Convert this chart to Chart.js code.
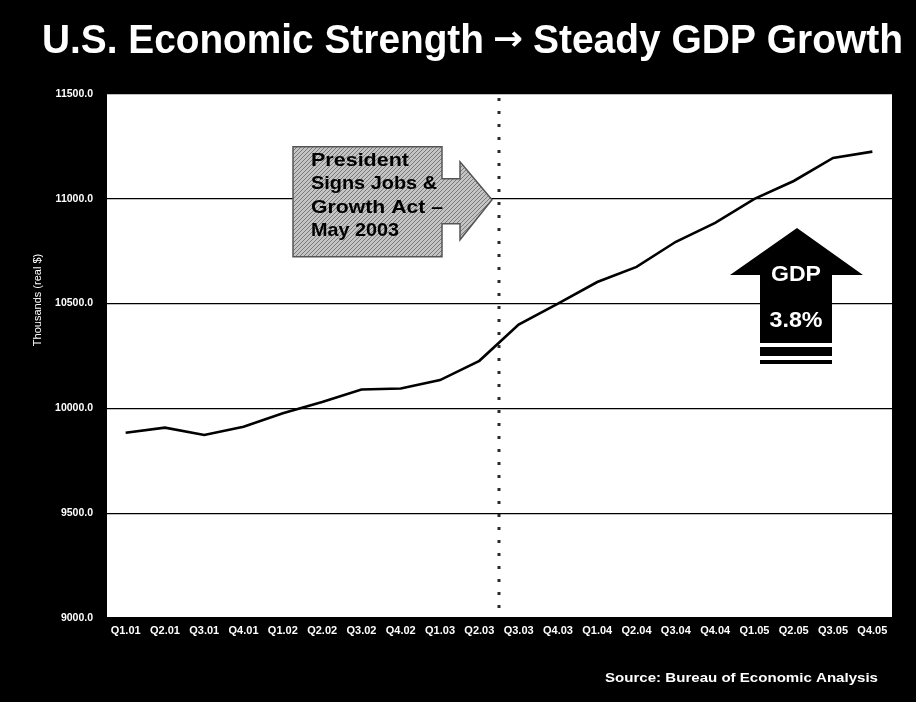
<!DOCTYPE html>
<html>
<head>
<meta charset="utf-8">
<script src="https://cdn.jsdelivr.net/npm/chart.js@4/dist/chart.umd.min.js"></script>
<style>
  html, body { margin: 0; padding: 0; background: #000; }
  canvas { display: block; }
</style>
</head>
<body>
<canvas id="gdpChart" width="916" height="702"></canvas>
<script>
// Data (real GDP, thousands of real $)
const quarters = ['Q1.01', 'Q2.01', 'Q3.01', 'Q4.01', 'Q1.02', 'Q2.02', 'Q3.02', 'Q4.02', 'Q1.03', 'Q2.03',
                  'Q3.03', 'Q4.03', 'Q1.04', 'Q2.04', 'Q3.04', 'Q4.04', 'Q1.05', 'Q2.05', 'Q3.05', 'Q4.05'];
const gdp = [9884, 9908, 9873, 9912, 9977, 10030, 10090, 10095, 10135, 10227,
             10400, 10500, 10603, 10675, 10795, 10885, 11000, 11085, 11195, 11225];
const yTicks = [9000, 9500, 10000, 10500, 11000, 11500];

// Annotation texts
const titleLeft = 'U.S. Economic Strength';
const titleArrow = '\u2192';
const titleRight = 'Steady GDP Growth';
const yTitle = 'Thousands (real $)';
const sourceText = 'Source: Bureau of Economic Analysis';
const calloutLines = ['President', 'Signs Jobs &', 'Growth Act \u2013', 'May 2003'];
const signedAfter = 'Q2.03';   // act signed May 2003 -> marker after Q2.03
const calloutValue = 11000;
const gdpLabel = 'GDP';
const gdpRate = '3.8%';

const FONT = "'Liberation Sans', Arial, sans-serif";

// draw text squeezed/stretched to a given width
function fitText(ctx, text, x, y, width, align) {
  const w = ctx.measureText(text).width;
  const sx = width / w;
  ctx.save();
  let left = x;
  if (align === 'center') left = x - width / 2;
  if (align === 'right') left = x - width;
  ctx.translate(left, y);
  ctx.scale(sx, 1);
  ctx.textAlign = 'left';
  ctx.fillText(text, 0, 0);
  ctx.restore();
}

// gray hatched fill for the callout box
function hatchPattern(ctx) {
  const pc = document.createElement('canvas');
  pc.width = 4; pc.height = 4;
  const p = pc.getContext('2d');
  p.fillStyle = '#c4c4c4';
  p.fillRect(0, 0, 4, 4);
  p.strokeStyle = '#7a7a7a';
  p.lineWidth = 1;
  p.beginPath();
  p.moveTo(0, 4); p.lineTo(4, 0);
  p.moveTo(-1, 1); p.lineTo(1, -1);
  p.moveTo(3, 5); p.lineTo(5, 3);
  p.stroke();
  return ctx.createPattern(pc, 'repeat');
}

const decor = {
  id: 'decor',
  beforeDraw(chart) {
    const ctx = chart.ctx;
    const a = chart.chartArea;
    ctx.save();
    ctx.fillStyle = '#000';
    ctx.fillRect(0, 0, chart.width, chart.height);
    ctx.fillStyle = '#fff';
    ctx.fillRect(a.left, a.top, a.right - a.left, a.bottom - a.top);
    ctx.restore();
  },
  afterDraw(chart) {
    const ctx = chart.ctx;
    const a = chart.chartArea;
    const xs = chart.scales.x;
    const ys = chart.scales.y;
    const idx = quarters.indexOf(signedAfter);
    const markX = (xs.getPixelForValue(idx) + xs.getPixelForValue(idx + 1)) / 2;

    ctx.save();
    // dotted vertical marker
    ctx.strokeStyle = '#2a2a2a';
    ctx.lineWidth = 3;
    ctx.setLineDash([3, 10]);
    ctx.beginPath();
    ctx.moveTo(markX, a.top + 4);
    ctx.lineTo(markX, a.bottom);
    ctx.stroke();
    ctx.setLineDash([]);

    // callout arrow pointing at the marker
    const tx = markX - 7;
    const ty = ys.getPixelForValue(calloutValue) + 1;
    ctx.beginPath();
    ctx.moveTo(tx - 199, ty - 53);
    ctx.lineTo(tx - 50, ty - 53);
    ctx.lineTo(tx - 50, ty - 21);
    ctx.lineTo(tx - 32, ty - 21);
    ctx.lineTo(tx - 32, ty - 38);
    ctx.lineTo(tx, ty);
    ctx.lineTo(tx - 32, ty + 40);
    ctx.lineTo(tx - 32, ty + 24);
    ctx.lineTo(tx - 50, ty + 24);
    ctx.lineTo(tx - 50, ty + 57);
    ctx.lineTo(tx - 199, ty + 57);
    ctx.closePath();
    ctx.fillStyle = hatchPattern(ctx);
    ctx.fill();
    ctx.strokeStyle = '#555';
    ctx.lineWidth = 1.5;
    ctx.stroke();

    ctx.fillStyle = '#000';
    ctx.font = 'bold 19px ' + FONT;
    ctx.textBaseline = 'alphabetic';
    const widths = [98, 126, 132, 88];
    calloutLines.forEach((line, i) => {
      fitText(ctx, line, tx - 181, ty - 34 + i * 23.5, widths[i], 'left');
    });

    // GDP up arrow
    const gx = 797, gTop = 228;
    ctx.fillStyle = '#000';
    ctx.beginPath();
    ctx.moveTo(gx, gTop);
    ctx.lineTo(gx + 66, gTop + 47);
    ctx.lineTo(gx + 35, gTop + 47);
    ctx.lineTo(gx + 35, gTop + 115);
    ctx.lineTo(gx - 37, gTop + 115);
    ctx.lineTo(gx - 37, gTop + 47);
    ctx.lineTo(gx - 67, gTop + 47);
    ctx.closePath();
    ctx.fill();
    ctx.fillRect(gx - 37, gTop + 119, 72, 9);
    ctx.fillRect(gx - 37, gTop + 132, 72, 4);
    ctx.fillStyle = '#fff';
    ctx.font = 'bold 22px ' + FONT;
    ctx.textBaseline = 'middle';
    fitText(ctx, gdpLabel, gx - 1, gTop + 47, 50, 'center');
    fitText(ctx, gdpRate, gx - 1, gTop + 93, 53, 'center');

    // title, arrow drawn in a heavier font
    ctx.fillStyle = '#fff';
    ctx.textBaseline = 'alphabetic';
    ctx.font = 'bold 40px ' + FONT;
    fitText(ctx, titleLeft, 42, 53, 442, 'left');
    fitText(ctx, titleRight, 533, 53, 370, 'left');
    ctx.font = 'bold 34px "DejaVu Sans", sans-serif';
    fitText(ctx, titleArrow, 493, 50, 30, 'left');

    // y axis title
    ctx.font = '11px ' + FONT;
    ctx.textBaseline = 'middle';
    ctx.save();
    ctx.translate(38, 300);
    ctx.rotate(-Math.PI / 2);
    ctx.textAlign = 'center';
    ctx.fillText(yTitle, 0, 0);
    ctx.restore();

    // source
    ctx.font = 'bold 13px ' + FONT;
    ctx.textBaseline = 'middle';
    fitText(ctx, sourceText, 878, 678, 273, 'right');
    ctx.restore();
  }
};

const ctx = document.getElementById('gdpChart').getContext('2d');
new Chart(ctx, {
  type: 'line',
  data: {
    labels: quarters,
    datasets: [{
      data: gdp,
      borderColor: '#000',
      borderWidth: 2.6,
      pointRadius: 0,
      tension: 0,
      fill: false
    }]
  },
  options: {
    responsive: false,
    animation: false,
    layout: { padding: { top: 94, right: 24, left: 0, bottom: 0 } },
    plugins: { legend: { display: false }, tooltip: { enabled: false } },
    scales: {
      x: {
        offset: true,
        grid: { display: false, drawTicks: false },
        border: { display: false },
        ticks: {
          color: '#fff',
          font: { family: FONT, weight: 'bold', size: 11 },
          padding: 6,
          maxRotation: 0,
          autoSkip: false
        },
        afterFit(scale) { scale.height = 84; }
      },
      y: {
        min: yTicks[0],
        max: yTicks[yTicks.length - 1],
        afterBuildTicks(scale) { scale.ticks = yTicks.map(v => ({ value: v })); },
        grid: { color: '#000', lineWidth: 1.2, drawTicks: false },
        border: { display: true, color: '#000', width: 2 },
        ticks: {
          color: '#fff',
          font: { family: FONT, weight: 'bold', size: 10.5 },
          padding: 13,
          callback: v => Number(v).toFixed(1)
        },
        afterFit(scale) { scale.width = 106; }
      }
    }
  },
  plugins: [decor]
});
</script>
</body>
</html>
